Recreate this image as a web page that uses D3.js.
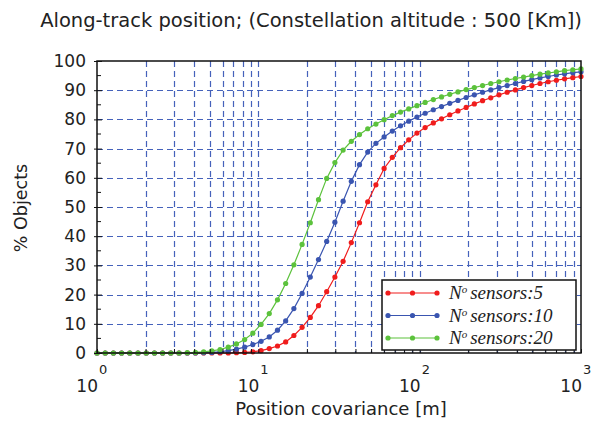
<!DOCTYPE html>
<html>
<head>
<meta charset="utf-8">
<script src="https://cdnjs.cloudflare.com/ajax/libs/d3/7.8.5/d3.min.js"></script>
<style>
  body { margin: 0; background: #fff; }
  text { font-family: "DejaVu Sans", sans-serif; fill: #222; }
</style>
</head>
<body>
<div id="chart"></div>
<script>
var width = 605,
    height = 428;

var margin = {left: 97, right: 24, top: 61, bottom: 75};

// 60 log-spaced covariance samples from 10^0 to 10^3
var nPoints = 60;
var covariance = d3.range(nPoints).map(function(i) { return Math.pow(10, 3 * i / (nPoints - 1)); });

var sensors5 = [0, 0, 0, 0, 0, 0, 0, 0, 0, 0,
  0, 0, 0, 0, 0, 0, 0, 0.1, 0.2, 0.4,
  0.8, 1.5, 2.4, 3.8, 6.0, 8.8, 12.2, 16.2, 21.0, 26.0,
  31.4, 37.8, 44.6, 51.8, 57.6, 63.2, 67.0, 70.3, 73.0, 75.3,
  77.2, 78.8, 80.2, 81.6, 82.9, 84.1, 85.3, 86.4, 87.4, 88.4,
  89.3, 90.1, 90.9, 91.6, 92.3, 92.9, 93.4, 93.9, 94.3, 94.7];

var sensors10 = [0, 0, 0, 0, 0, 0, 0, 0, 0, 0,
  0, 0, 0, 0.1, 0.2, 0.4, 0.8, 1.3, 2.0, 2.9,
  4.0, 5.5, 7.8, 11.0, 15.2, 20.4, 26.0, 32.0, 38.2, 44.8,
  52.0, 58.8, 64.5, 68.8, 71.8, 74.0, 76.0, 77.8, 79.4, 80.8,
  82.1, 83.3, 84.4, 85.5, 86.5, 87.5, 88.4, 89.3, 90.1, 90.9,
  91.6, 92.3, 93.0, 93.6, 94.2, 94.7, 95.2, 95.6, 96.0, 96.3];

var sensors20 = [0, 0, 0, 0, 0, 0, 0, 0, 0, 0,
  0, 0.1, 0.2, 0.4, 0.7, 1.2, 2.0, 3.1, 4.6, 6.8,
  9.8, 13.5, 18.2, 23.8, 30.2, 37.2, 44.6, 52.5, 59.8, 65.2,
  69.5, 72.5, 74.8, 76.8, 78.4, 79.9, 81.3, 82.5, 83.6, 84.7,
  85.8, 86.8, 87.7, 88.6, 89.4, 90.2, 90.9, 91.6, 92.3, 92.9,
  93.5, 94.0, 94.5, 95.0, 95.5, 95.9, 96.3, 96.7, 97.0, 97.3];

var seriesNames = ["sensors:5", "sensors:10", "sensors:20"];
var seriesColors = ["#f01c1c", "#3a55b0", "#5cc23c"];
var yTicks = d3.range(0, 101, 10);
var decades = [0, 1, 2, 3];

var series = [sensors5, sensors10, sensors20].map(function(v, k) {
  return {name: seriesNames[k], color: seriesColors[k],
          values: v.map(function(y, i) { return {x: covariance[i], y: y}; })};
});

var x = d3.scaleLog().domain([1, 1000]).range([margin.left, width - margin.right]);
var y = d3.scaleLinear().domain([0, 100]).range([height - margin.bottom, margin.top]);

var svg = d3.select("#chart").append("svg")
  .attr("width", width)
  .attr("height", height);

// grid
var minorX = [];
[1, 10, 100].forEach(function(d) { d3.range(1, 10).forEach(function(m) { minorX.push(d * m); }); });
minorX.push(1000);

var grid = svg.append("g").attr("stroke", "#4562bb").attr("stroke-width", 1.2)
  .attr("stroke-dasharray", "6,4");
grid.selectAll(".gx").data(minorX.slice(1, -1)).enter().append("line")
  .attr("x1", function(d) { return Math.round(x(d)) + 0.5; })
  .attr("x2", function(d) { return Math.round(x(d)) + 0.5; })
  .attr("y1", y(100)).attr("y2", y(0));
grid.selectAll(".gy").data(yTicks.slice(1, -1)).enter().append("line")
  .attr("x1", x(1)).attr("x2", x(1000))
  .attr("y1", function(d) { return Math.round(y(d)) + 0.5; })
  .attr("y2", function(d) { return Math.round(y(d)) + 0.5; });

// series
var line = d3.line().x(function(d) { return x(d.x); }).y(function(d) { return y(d.y); });

series.forEach(function(s) {
  svg.append("path").datum(s.values)
    .attr("fill", "none").attr("stroke", s.color).attr("stroke-width", 1.2)
    .attr("d", line);
  svg.append("g").selectAll("circle").data(s.values).enter().append("circle")
    .attr("cx", function(d) { return x(d.x); })
    .attr("cy", function(d) { return y(d.y); })
    .attr("r", 2.6)
    .attr("fill", s.color);
});

// frame
svg.append("rect")
  .attr("x", x(1)).attr("y", y(100))
  .attr("width", x(1000) - x(1)).attr("height", y(0) - y(100))
  .attr("fill", "none").attr("stroke", "#111").attr("stroke-width", 1.5);

// y axis
var yAxis = d3.axisLeft(y).tickValues(yTicks).tickSize(0).tickPadding(11);
var gy = svg.append("g").attr("transform", "translate(" + x(1) + ",0)").call(yAxis);
gy.select(".domain").remove();
gy.selectAll("text").style("font-size", "17px").style("font-family", "'DejaVu Sans', sans-serif").attr("fill", "#222");
gy.selectAll(".tick").append("line").attr("x1", -3).attr("x2", 5).attr("stroke", "#111");
svg.append("g").selectAll("line").data(d3.range(5, 100, 10)).enter().append("line")
  .attr("x1", x(1)).attr("x2", x(1) + 4)
  .attr("y1", function(d) { return y(d); }).attr("y2", function(d) { return y(d); })
  .attr("stroke", "#111");

// x axis
var xAxis = d3.axisBottom(x).tickValues(minorX).tickSize(-4).tickFormat("");
var gx = svg.append("g").attr("transform", "translate(0," + y(0) + ")").call(xAxis);
gx.select(".domain").remove();
gx.selectAll("line").attr("stroke", "#111");

var lab = svg.append("g").selectAll("g").data(decades).enter().append("g")
  .attr("transform", function(d) { return "translate(" + x(Math.pow(10, d)) + "," + (y(0) + 39) + ")"; });
lab.append("text").attr("text-anchor", "end").attr("x", 1).style("font-size", "17px").text("10");
lab.append("text").attr("x", 2).attr("y", -18).style("font-size", "13px").text(function(d) { return d; });

// labels
svg.append("text").attr("x", 311).attr("y", 27).attr("text-anchor", "middle")
  .style("font-size", "19.5px").text("Along-track position; (Constellation altitude : 500 [Km])");
svg.append("text").attr("x", 341).attr("y", 415).attr("text-anchor", "middle")
  .style("font-size", "18px").text("Position covariance [m]");
svg.append("text").attr("transform", "translate(27,208) rotate(-90)").attr("text-anchor", "middle")
  .style("font-size", "17.5px").text("% Objects");

// legend
var lg = svg.append("g").attr("transform", "translate(382,280)");
lg.append("rect").attr("width", 194).attr("height", 70)
  .attr("fill", "#fff").attr("stroke", "#111").attr("stroke-width", 1.5);
var row = lg.selectAll(".row").data(series).enter().append("g")
  .attr("transform", function(d, i) { return "translate(0," + (13 + i * 22.5) + ")"; });
row.append("line").attr("x1", 6).attr("x2", 55).attr("stroke", function(d) { return d.color; }).attr("stroke-width", 1.2);
row.selectAll("circle").data(function(d) { return [6, 30.5, 55].map(function(cx) { return {cx: cx, c: d.color}; }); })
  .enter().append("circle").attr("cx", function(d) { return d.cx; }).attr("r", 2.6)
  .attr("fill", function(d) { return d.c; });
var lt = row.append("text").attr("x", 67).attr("y", 6)
  .style("font-family", "'Liberation Serif', serif").style("font-style", "italic").style("font-size", "19px")
  .attr("fill", "#111");
lt.append("tspan").text("N");
lt.append("tspan").attr("dy", -6).style("font-size", "11px").text("o");
lt.append("tspan").attr("dy", 6).attr("dx", 3).text(function(d) { return d.name; });
</script>
</body>
</html>
